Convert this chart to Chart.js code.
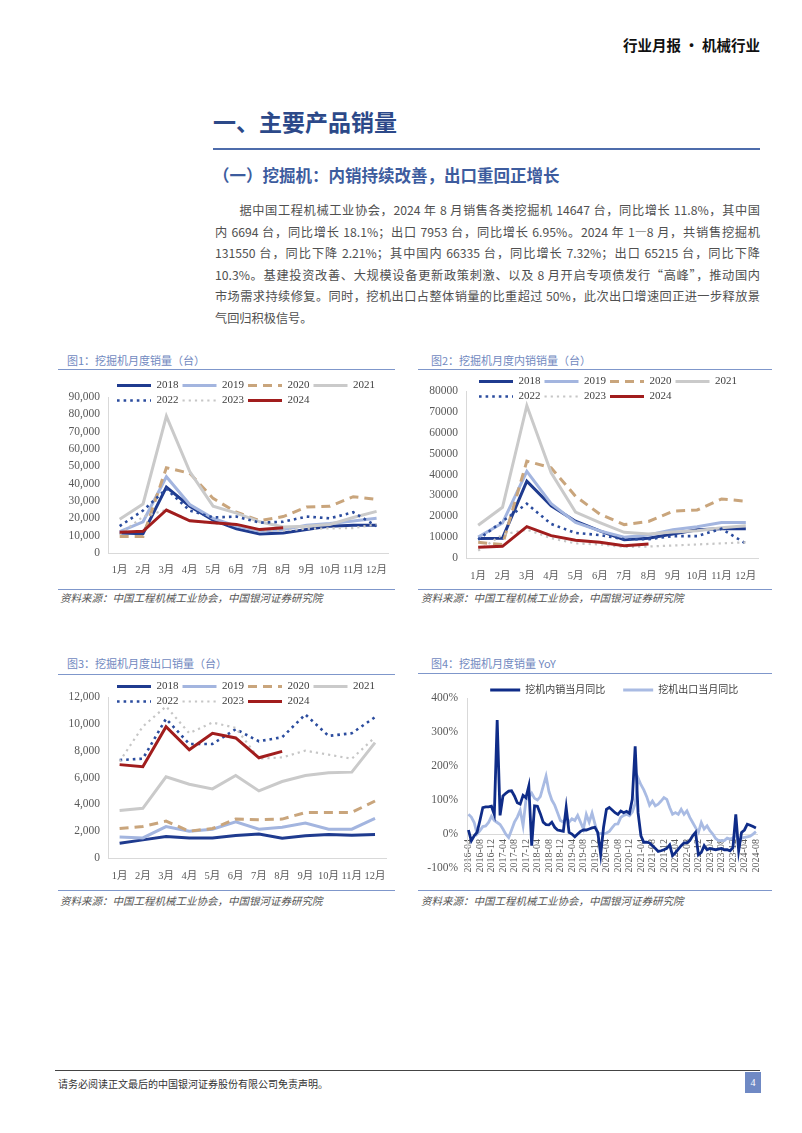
<!DOCTYPE html>
<html lang="zh-CN">
<head>
<meta charset="utf-8">
<title>行业月报 · 机械行业</title>
<script src="https://cdn.jsdelivr.net/npm/chart.js@4.4.1/dist/chart.umd.min.js"></script>
<style>
  html, body { margin: 0; padding: 0; background: #fff; }
  body { width: 802px; height: 1133px; position: relative; overflow: hidden;
         font-family: "Noto Sans CJK SC", sans-serif; color: #333; }
  .abs { position: absolute; white-space: nowrap; }
  .hdr { right: 42px; top: 36px; font-size: 14.5px; font-weight: bold; color: #111; line-height: 18px; }
  .h1 { left: 213px; top: 109px; font-size: 23px; font-weight: bold; color: #2c4989; line-height: 24px; }
  .rule { background: #4e6cab; height: 2px; }
  .h2 { left: 213px; top: 166px; font-size: 16.5px; font-weight: bold; color: #3d5c9e; line-height: 18px; }
  .para { left: 215px; top: 200px; width: 545px; font-size: 12.2px; color: #505050; }
  .para div { height: 21.5px; line-height: 21.5px; text-align: justify; text-align-last: justify; white-space: normal; }
  .para div.first { text-indent: 2em; }
  .para div.last { text-align-last: left; }
  .ctitle { font-size: 11px; color: #7189c0; line-height: 14px; }
  .cline { height: 1px; background: #7f97cb; }
  .src { font-size: 10.5px; font-style: italic; color: #555; line-height: 14px; }
  .box { position: absolute; }
  .foot { left: 58px; top: 1077px; font-size: 10px; color: #333; line-height: 13px; }
  .pg { left: 745px; top: 1072px; width: 16px; height: 21px; background: #6f89c4; color: #fff;
        font-size: 10px; line-height: 21px; text-align: center; font-family: "Liberation Serif", serif; }
</style>
</head>
<body>

<div class="abs hdr">行业月报 · 机械行业</div>
<div class="abs h1">一、主要产品销量</div>
<div class="abs rule" style="left:213px;top:148px;width:547px;"></div>
<div class="abs h2">（一）挖掘机：内销持续改善，出口重回正增长</div>

<div class="abs para">
  <div class="first">据中国工程机械工业协会，2024 年 8 月销售各类挖掘机 14647 台，同比增长 11.8%，其中国</div>
  <div>内 6694 台，同比增长 18.1%；出口 7953 台，同比增长 6.95%。2024 年 1—8 月，共销售挖掘机</div>
  <div>131550 台，同比下降 2.21%；其中国内 66335 台，同比增长 7.32%；出口 65215 台，同比下降</div>
  <div>10.3%。基建投资改善、大规模设备更新政策刺激、以及 8 月开启专项债发行“高峰”，推动国内</div>
  <div>市场需求持续修复。同时，挖机出口占整体销量的比重超过 50%，此次出口增速回正进一步释放景</div>
  <div class="last">气回归积极信号。</div>
</div>

<!-- 图1 -->
<div class="abs ctitle" style="left:67px;top:353px;">图1：挖掘机月度销量（台）</div>
<div class="abs cline" style="left:58px;top:369px;width:337px;"></div>
<div class="box" style="left:58px;top:376px;width:340px;height:205px;"><canvas id="c1"></canvas></div>
<div class="abs cline" style="left:58px;top:589px;width:337px;"></div>
<div class="abs src" style="left:60px;top:591px;">资料来源：中国工程机械工业协会，中国银河证券研究院</div>

<!-- 图2 -->
<div class="abs ctitle" style="left:431px;top:353px;">图2：挖掘机月度内销销量（台）</div>
<div class="abs cline" style="left:418px;top:369px;width:354px;"></div>
<div class="box" style="left:418px;top:372px;width:355px;height:214px;"><canvas id="c2"></canvas></div>
<div class="abs cline" style="left:418px;top:589px;width:354px;"></div>
<div class="abs src" style="left:421px;top:591px;">资料来源：中国工程机械工业协会，中国银河证券研究院</div>

<!-- 图3 -->
<div class="abs ctitle" style="left:67px;top:656px;">图3：挖掘机月度出口销量（台）</div>
<div class="abs cline" style="left:58px;top:674px;width:337px;"></div>
<div class="box" style="left:58px;top:677px;width:340px;height:209px;"><canvas id="c3"></canvas></div>
<div class="abs cline" style="left:58px;top:890px;width:337px;"></div>
<div class="abs src" style="left:60px;top:894px;">资料来源：中国工程机械工业协会，中国银河证券研究院</div>

<!-- 图4 -->
<div class="abs ctitle" style="left:431px;top:656px;">图4：挖掘机月度销量 YoY</div>
<div class="abs cline" style="left:418px;top:673px;width:354px;"></div>
<div class="box" style="left:418px;top:667px;width:355px;height:217px;"><canvas id="c4"></canvas></div>
<div class="abs cline" style="left:418px;top:890px;width:354px;"></div>
<div class="abs src" style="left:421px;top:894px;">资料来源：中国工程机械工业协会，中国银河证券研究院</div>

<div class="abs" style="left:55px;top:1070px;width:705px;height:1px;background:#444;"></div>
<div class="abs foot">请务必阅读正文最后的中国银河证券股份有限公司免责声明。</div>
<div class="abs pg">4</div>

<script>
// 月份与年份
const months = ['1月', '2月', '3月', '4月', '5月', '6月', '7月', '8月', '9月', '10月', '11月', '12月'];
const years = ['2018', '2019', '2020', '2021', '2022', '2023', '2024'];

// 图1：挖掘机月度销量（台）
const total2018 = [11500, 11100, 38000, 27000, 19000, 14000, 11000, 11500, 13500, 15500, 16000, 16000];
const total2019 = [12300, 18000, 44000, 28000, 20000, 15500, 12500, 13500, 16000, 17000, 18500, 20000];
const total2020 = [9500, 9500, 49200, 46000, 31500, 23500, 18700, 21000, 26500, 27000, 32500, 31000];
const total2021 = [19500, 28300, 79000, 47000, 27000, 23000, 18000, 15000, 15500, 16500, 20500, 24000];
const total2022 = [15500, 24500, 37000, 24500, 20500, 21000, 17500, 18000, 21000, 20000, 23500, 15500];
const total2023 = [10700, 21000, 24900, 18800, 17100, 16200, 12700, 13000, 14000, 14200, 14400, 16500];
const total2024 = [12000, 12500, 24800, 18600, 17500, 16500, 13500, 14600];

// 图2：挖掘机月度内销销量（台）
const dom2018 = [9300, 9500, 36800, 25000, 17600, 13000, 8800, 9500, 11500, 13500, 14000, 14000];
const dom2019 = [10000, 16800, 41500, 26000, 17000, 13000, 10000, 11000, 13500, 15000, 17000, 17000];
const dom2020 = [7500, 6400, 46400, 43200, 29600, 21000, 16000, 17500, 22400, 23000, 28300, 27200];
const dom2021 = [15700, 24300, 73000, 40800, 22000, 17000, 12300, 11500, 12500, 13000, 14500, 15500];
const dom2022 = [8800, 17600, 26000, 16300, 12000, 11000, 9000, 9000, 10500, 10500, 14000, 6900];
const dom2023 = [3500, 11200, 13600, 9500, 7000, 6500, 5300, 5500, 6000, 6500, 7000, 7500];
const dom2024 = [5100, 5600, 15000, 10700, 8500, 7500, 5900, 6700];

// 图3：挖掘机月度出口销量（台）
const exp2018 = [1100, 1350, 1600, 1500, 1500, 1670, 1780, 1480, 1650, 1750, 1700, 1750];
const exp2019 = [1570, 1500, 2340, 2000, 2150, 2700, 2150, 2300, 2600, 2150, 2150, 2950];
const exp2020 = [2190, 2350, 2750, 2000, 2200, 2900, 2850, 2900, 3390, 3400, 3400, 4250];
const exp2021 = [3540, 3700, 6050, 5500, 5150, 6150, 5000, 5700, 6150, 6350, 6400, 8600];
const exp2022 = [7300, 7400, 10380, 8500, 8500, 9600, 8700, 9000, 10700, 9100, 9300, 10500];
const exp2023 = [7200, 9800, 11300, 9300, 10100, 9700, 7400, 7500, 8000, 7700, 7400, 9000];
const exp2024 = [6960, 6800, 9790, 8070, 9300, 8950, 7470, 7950];

// 图4：挖掘机月度销量 YoY（%），2016-04 至 2024-08
const yoyDomestic = [
  12, -20, -5, 5, 40, 78, 80, 80, 82,
  58, 335, 55, 112, 120, 126, 127, 112, 92, 88, 114, 107,
  141, -34, 83, 82, 60, 35, 28, 27, 35, 20, 12, 10,
  8, 78, 5, 0, -8, 0, 8, 12, 12, 15, 18, 20,
  5, -60, 20, 73, 78, 71, 63, 58, 68, 63, 67, 61,
  102, 258, 63, -5, -24, -24, -26, -34, -42, -51, -49, -46,
  -42, -32, -63, -55, -44, -34, -26, -26, -19, -5, 5, -61,
  -54, -34, -46, -42, -44, -46, -44, -42, -46, -46, -49, -40,
  58, -49, 5, 12, 29, 26, 22, 18
];
const yoyExport = [
  58, 50, 34, 0, 10, 22, 24, 34, 52,
  40, 34, 28, 15, 0, -10, 12, 35, 50, 70, 25, 100,
  107, 120, 105, 100, 110, 140, 170, 125, 100, 85, 63, 40,
  35, 49, 35, 45, 40, 55, 35, 15, 58, 35, 62, 30,
  0, 2, 0, 3, 8, 19, 29, 30, 49, 55, 58, 54,
  65, 90, 165, 145, 130, 110, 85, 97, 83, 88, 97, 107,
  102, 78, 58, 63, 58, 73, 58, 68, 49, 34, 19, 5,
  34, 15, 24, 10, 0, -13, -19, -19, -19, -12, -15, -12,
  0, -25, -12, -10, -8, -6, 0, 7
];
const yoyNames = ['挖机内销当月同比', '挖机出口当月同比'];

// 月份标签 2016-04 ... 2024-08
const yoyMonths = [];
for (let y = 2016, m = 4; yoyMonths.length < yoyDomestic.length; m++) {
  if (m > 12) { m = 1; y++; }
  yoyMonths.push(y + '-' + String(m).padStart(2, '0'));
}

// 线型
const yearStyles = [
  { color: '#1f3b8f', width: 3, dash: [] },
  { color: '#a3b5df', width: 3, dash: [] },
  { color: '#c9a57c', width: 3, dash: [9, 6] },
  { color: '#cacaca', width: 3, dash: [] },
  { color: '#2b4c9e', width: 2.6, dash: [2.6, 4] },
  { color: '#c6c6c6', width: 2.2, dash: [2.2, 4] },
  { color: '#a11d1d', width: 3, dash: [] }
];

Chart.defaults.font.family = "'Liberation Serif', 'Noto Sans CJK SC', serif";
Chart.defaults.color = '#595959';
Chart.defaults.animation = false;

// 图例的线段按数据集的线型画（虚线、点线）
function lineLabels(chart) {
  const items = Chart.defaults.plugins.legend.labels.generateLabels(chart);
  items.forEach(it => {
    const ds = chart.data.datasets[it.datasetIndex];
    it.pointStyle = 'line';
    it.strokeStyle = ds.borderColor;
    it.lineWidth = ds.borderWidth;
    it.lineDash = ds.borderDash || [];
    it.lineCap = 'butt';
  });
  return items.sort((a, b) => a.datasetIndex - b.datasetIndex);
}

// 图例放进绘图区上方（像 Excel 那样与绘图区重叠）
const legendRoom = {
  id: 'legendRoom',
  afterLayout(chart, args, opts) {
    const lg = chart.legend;
    if (!lg) return;
    const dx = opts.dx || 0;
    lg.left += dx;
    lg.right += dx;
    lg.bottom = lg.top + 80;
  }
};

function yearChart(id, series, yMax, yStep, fmt, cfg) {
  const datasets = series.map((data, i) => ({
    label: years[i],
    data: data,
    borderColor: yearStyles[i].color,
    backgroundColor: yearStyles[i].color,
    borderWidth: yearStyles[i].width,
    borderDash: yearStyles[i].dash,
    pointRadius: 0,
    tension: 0,
    fill: false,
    order: series.length - i
  }));
  return new Chart(document.getElementById(id), {
    type: 'line',
    data: { labels: months, datasets: datasets },
    plugins: [legendRoom],
    options: {
      responsive: true,
      maintainAspectRatio: false,
      layout: { padding: { left: 0, right: cfg.padRight, top: 0, bottom: 0 } },
      plugins: {
        legend: {
          position: 'top',
          align: 'start',
          fullSize: false,
          maxHeight: cfg.legendH,
          labels: {
            usePointStyle: true,
            pointStyle: 'line',
            pointStyleWidth: 34,
            boxHeight: 11,
            padding: 4,
            color: '#404040',
            font: { size: 11 },
            generateLabels: lineLabels
          }
        },
        legendRoom: { dx: cfg.dx },
        tooltip: { enabled: false }
      },
      scales: {
        x: {
          offset: true,
          grid: { display: false, drawTicks: false },
          border: { display: true, color: '#d9d9d9' },
          ticks: { padding: cfg.xPad, font: { size: 10.5 }, maxRotation: 0, autoSkip: false },
          afterFit(s) { s.height = 28; }
        },
        y: {
          min: 0,
          max: yMax,
          grid: { display: false, drawTicks: false },
          border: { display: true, color: '#d9d9d9' },
          ticks: { stepSize: yStep, padding: 8, font: { size: 11.5 }, callback: fmt },
          afterFit(s) { s.width = cfg.yWidth; }
        }
      }
    }
  });
}

const comma = v => v.toLocaleString('en-US');
const plain = v => String(v);

yearChart('c1', [total2018, total2019, total2020, total2021, total2022, total2023, total2024],
  90000, 10000, comma, { padRight: 4, legendH: 21, dx: 5, xPad: 10.5, yWidth: 50 });
yearChart('c2', [dom2018, dom2019, dom2020, dom2021, dom2022, dom2023, dom2024],
  80000, 10000, plain, { padRight: 15, legendH: 19, dx: 9, xPad: 12, yWidth: 48 });
yearChart('c3', [exp2018, exp2019, exp2020, exp2021, exp2022, exp2023, exp2024],
  12000, 1000, comma, { padRight: 4, legendH: 20, dx: 5, xPad: 12, yWidth: 50 });

// 图4
new Chart(document.getElementById('c4'), {
  type: 'line',
  data: {
    labels: yoyMonths,
    datasets: [
      { label: yoyNames[0], data: yoyDomestic, borderColor: '#0f2c88', backgroundColor: '#0f2c88',
        borderWidth: 2.8, pointRadius: 0, tension: 0, fill: false },
      { label: yoyNames[1], data: yoyExport, borderColor: '#a9bbe3', backgroundColor: '#a9bbe3',
        borderWidth: 2.8, pointRadius: 0, tension: 0, fill: false }
    ]
  },
  plugins: [legendRoom],
  options: {
    responsive: true,
    maintainAspectRatio: false,
    layout: { padding: { left: 0, right: 10, top: 0, bottom: 15 } },
    plugins: {
      legend: {
        position: 'top',
        align: 'center',
        fullSize: false,
        maxHeight: 31,
        labels: {
          usePointStyle: true,
          pointStyle: 'line',
          pointStyleWidth: 30,
          boxHeight: 10,
          padding: 18,
          color: '#404040',
          font: { size: 10 },
          generateLabels: lineLabels
        }
      },
      legendRoom: { dx: 2 },
      tooltip: { enabled: false }
    },
    scales: {
      x: {
        position: { y: 0 },
        offset: true,
        grid: { display: false, drawTicks: false },
        border: { display: true, color: '#d9d9d9' },
        ticks: {
          autoSkip: false,
          minRotation: 90,
          maxRotation: 90,
          padding: 5,
          font: { size: 10 },
          callback: function (v, i) { return i % 4 === 0 ? this.getLabelForValue(v) : ''; }
        }
      },
      y: {
        min: -100,
        max: 400,
        grid: { display: false, drawTicks: false },
        border: { display: true, color: '#d9d9d9' },
        ticks: { stepSize: 100, padding: 9, font: { size: 11.5 }, callback: v => v + '%' },
        afterFit(s) { s.width = 49; }
      }
    }
  }
});
</script>
</body>
</html>
